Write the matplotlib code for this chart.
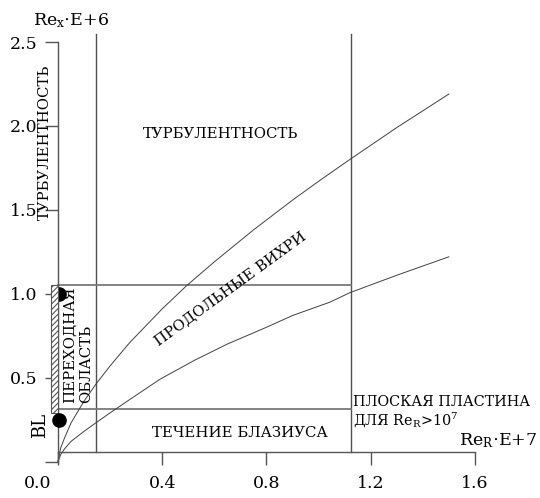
import matplotlib
matplotlib.use("Agg")
import matplotlib.pyplot as plt
from matplotlib.patches import Rectangle
from matplotlib.transforms import ScaledTranslation

plt.rcParams['font.family'] = ['DejaVu Serif']
plt.rcParams['mathtext.fontset'] = 'dejavuserif'
plt.rcParams['hatch.color'] = '#666666'
plt.rcParams['hatch.linewidth'] = 0.8

# ---- data ----
upper_x = [0.0, 0.01, 0.025, 0.05, 0.10, 0.145, 0.20, 0.276, 0.40, 0.495, 0.60, 0.75, 0.902, 1.00, 1.12, 1.30, 1.50]
upper_y = [0.0, 0.08, 0.14, 0.23, 0.36, 0.46, 0.57, 0.71, 0.91, 1.05, 1.19, 1.38, 1.56, 1.67, 1.80, 1.99, 2.19]
lower_x = [0.0, 0.01, 0.025, 0.05, 0.10, 0.145, 0.20, 0.276, 0.391, 0.526, 0.65, 0.80, 0.90, 1.044, 1.12, 1.30, 1.50]
lower_y = [0.0, 0.04, 0.075, 0.12, 0.18, 0.23, 0.29, 0.37, 0.49, 0.605, 0.70, 0.80, 0.87, 0.95, 1.006, 1.11, 1.22]

vlines_x = [0.145, 1.123]
hlines_y = [1.052, 0.313]
region_right = 1.123
vline_top = 2.55
xaxis_level = 0.057

hatch_x = [-0.028, 0.0]
hatch_y = [0.29, 1.052]
dots_x = [0.002, 0.004]
dots_y = [0.247, 1.0]

xticks = [0.0, 0.4, 0.8, 1.2, 1.6]
xticklabels = ['0.0', '0.4', '0.8', '1.2', '1.6']
yticks = [0.0, 0.5, 1.0, 1.5, 2.0, 2.5]
yticklabels = ['', '0.5', '1.0', '1.5', '2.0', '2.5']

# ---- figure ----
W, H = 540, 498
fig = plt.figure(figsize=(W / 100, H / 100), dpi=100)
ax = fig.add_axes([0, 0, 1, 1])
ax.patch.set_alpha(0)

x0px, xscale = 58.0, 260.6
y0px, yscale = 461.5, 167.8
ax.set_xlim(-x0px / xscale, (W - x0px) / xscale)
ax.set_ylim(-(H - y0px) / yscale, y0px / yscale)

axcol = '#555555'
for s in ['top', 'right']:
    ax.spines[s].set_visible(False)
ax.spines['left'].set_position(('data', 0.0))
ax.spines['left'].set_bounds(0.0, 2.5)
ax.spines['bottom'].set_position(('data', xaxis_level))
ax.spines['bottom'].set_bounds(0.0, 1.6)
for s in ['left', 'bottom']:
    ax.spines[s].set_color(axcol)
    ax.spines[s].set_linewidth(1.0)

tfs = 12.5
ax.set_xticks(xticks)
ax.set_xticklabels(xticklabels)
ax.set_yticks(yticks)
ax.set_yticklabels(yticklabels)
ax.tick_params(axis='x', direction='out', length=9.5, width=1.0, color=axcol,
               pad=7, labelsize=tfs)
ax.tick_params(axis='y', direction='out', length=9.5, width=1.0, color=axcol,
               pad=5, labelsize=tfs)
lab0 = ax.get_xticklabels()[0]
lab0.set_transform(lab0.get_transform() + ScaledTranslation(-0.2, 0, fig.dpi_scale_trans))

# region lines
for xv in vlines_x:
    ax.plot([xv, xv], [xaxis_level, vline_top], color='#505050', lw=1.0)
for yv in hlines_y:
    ax.plot([0.0, region_right], [yv, yv], color='#7a7a7a', lw=1.3)

# curves
ax.plot(upper_x, upper_y, color='#404040', lw=0.7)
ax.plot(lower_x, lower_y, color='#404040', lw=0.7)

# dots and hatched bar
ax.plot(dots_x[1:], dots_y[1:], 'o', color='black', ms=9.5, zorder=3)
ax.add_patch(Rectangle((hatch_x[0], hatch_y[0]), hatch_x[1] - hatch_x[0],
                       hatch_y[1] - hatch_y[0], facecolor='white',
                       edgecolor='#555555', lw=0.8, hatch='//////', zorder=4))
ax.plot(dots_x[:1], dots_y[:1], 'o', color='black', ms=9.5, zorder=5)

# texts
fs = 10.7
ax.text(-0.096, 2.60, r'$\mathrm{Re_x{\cdot}E{+}6}$', fontsize=tfs, ha='left', va='baseline')
ax.text(-0.05, 1.90, 'ТУРБУЛЕНТНОСТЬ', rotation=90, fontsize=fs, ha='center', va='center')
ax.text(0.625, 1.952, 'ТУРБУЛЕНТНОСТЬ', fontsize=fs, ha='center', va='center')
ax.text(0.698, 0.170, 'ТЕЧЕНИЕ БЛАЗИУСА', fontsize=fs, ha='center', va='center')
ax.text(1.131, 0.356, 'ПЛОСКАЯ ПЛАСТИНА', fontsize=10.4, ha='left', va='center')
ax.text(1.131, 0.247, r'ДЛЯ Re$_\mathrm{R}$>10$^7$', fontsize=10.4, ha='left', va='center')
ax.text(1.838, 0.098, r'$\mathrm{Re_R{\cdot}E{+}7}$', fontsize=12.5, ha='right', va='baseline')
ax.text(0.664, 1.028, 'ПРОДОЛЬНЫЕ ВИХРИ', rotation=36, fontsize=fs, ha='center', va='center',
        rotation_mode='anchor')
ax.text(0.019, 0.349, 'ПЕРЕХОДНАЯ\nОБЛАСТЬ', rotation=90, fontsize=fs, ha='left', va='top',
        rotation_mode='anchor', multialignment='left', linespacing=1.2)
ax.text(-0.069, 0.212, 'BL', rotation=90, fontsize=13, ha='center', va='center')

fig.savefig('out.png', dpi=100)
